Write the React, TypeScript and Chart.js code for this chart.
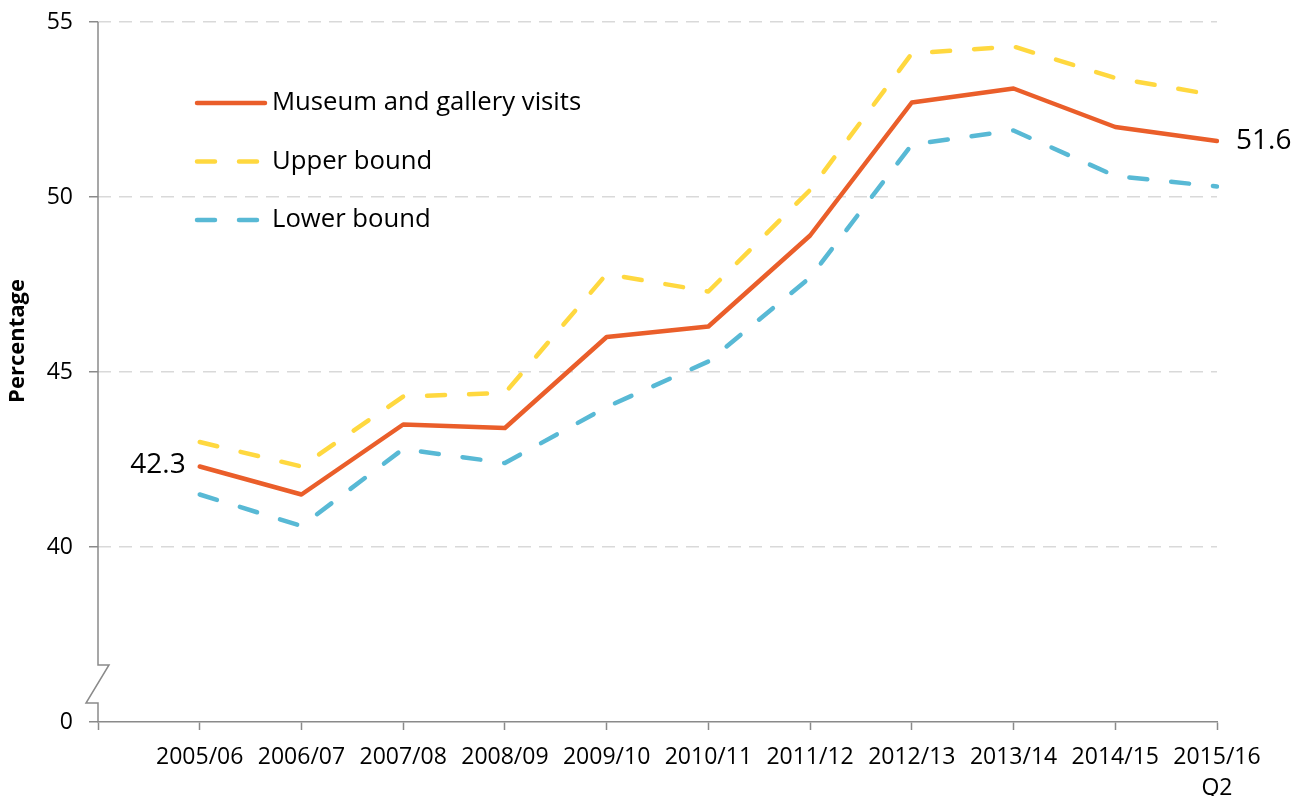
import React, { useEffect, useRef } from 'react';
import { Chart, registerables } from 'chart.js';

Chart.register(...registerables);

// ---- Data ----
const categories: (string | string[])[] = [
  '2005/06', '2006/07', '2007/08', '2008/09', '2009/10', '2010/11',
  '2011/12', '2012/13', '2013/14', '2014/15', ['2015/16', 'Q2'],
];
const visits = [42.3, 41.5, 43.5, 43.4, 46.0, 46.3, 48.9, 52.7, 53.1, 52.0, 51.6];
const upperBound = [43.0, 42.3, 44.3, 44.4, 47.8, 47.3, 50.2, 54.1, 54.3, 53.4, 52.9];
const lowerBound = [41.5, 40.6, 42.8, 42.4, 44.0, 45.3, 47.7, 51.5, 51.9, 50.6, 50.3];
const seriesNames = ['Museum and gallery visits', 'Upper bound', 'Lower bound'];
// broken axis: the lowest tick (35) is labelled "0"
const yTickValues = [35, 40, 45, 50, 55];
const yTickLabels = ['0', '40', '45', '50', '55'];
const yAxisTitle = 'Percentage';

// ---- Styles ----
const FONT = "'Open Sans', 'Noto Sans', sans-serif";
const ORANGE = '#EA5E2A';
const YELLOW = '#FFD83F';
const BLUE = '#58B9D5';
const AXIS = '#8a8a8a';
const GRID = '#d9d9d9';

const decorPlugin = {
  id: 'decor',
  afterDraw(chart: any) {
    const { ctx, chartArea } = chart;
    const x0 = chartArea.left;
    const b = chartArea.bottom;
    ctx.save();
    // y axis line with break symbol
    ctx.strokeStyle = AXIS;
    ctx.lineWidth = 1.5;
    ctx.lineJoin = 'miter';
    ctx.beginPath();
    ctx.moveTo(x0, chartArea.top);
    ctx.lineTo(x0, b - 57);
    ctx.lineTo(x0 + 11, b - 57);
    ctx.lineTo(x0 - 12, b - 19);
    ctx.lineTo(x0, b - 19);
    ctx.lineTo(x0, b);
    ctx.stroke();

    // y axis title
    ctx.save();
    ctx.translate(18, 341);
    ctx.rotate(-Math.PI / 2);
    ctx.fillStyle = '#000';
    ctx.font = `bold 22px ${FONT}`;
    ctx.textAlign = 'center';
    ctx.textBaseline = 'middle';
    ctx.fillText(yAxisTitle, 0, 0);
    ctx.restore();

    // legend
    chart.data.datasets.forEach((ds: any, i: number) => {
      const ly = 103 + i * 58.5;
      ctx.save();
      ctx.strokeStyle = ds.borderColor;
      ctx.lineWidth = ds.borderWidth;
      ctx.lineCap = 'round';
      ctx.setLineDash(ds.borderDash || []);
      ctx.beginPath();
      ctx.moveTo(197, ly);
      ctx.lineTo(265, ly);
      ctx.stroke();
      ctx.restore();
      ctx.fillStyle = '#000';
      ctx.font = `25.7px ${FONT}`;
      ctx.textAlign = 'left';
      ctx.textBaseline = 'middle';
      ctx.fillText(ds.label, 272, ly);
    });

    // data labels for first and last point of main series
    const meta = chart.getDatasetMeta(0);
    const pts = meta.data;
    const first = pts[1];
    const last = pts[pts.length - 1];
    ctx.fillStyle = '#000';
    ctx.font = `28px ${FONT}`;
    ctx.textBaseline = 'middle';
    ctx.textAlign = 'right';
    ctx.fillText(visits[0].toFixed(1), first.x - 14, first.y - 1);
    ctx.textAlign = 'left';
    ctx.fillText(visits[visits.length - 1].toFixed(1), last.x + 19, last.y);
    ctx.restore();
  },
};

export default function App() {
  const ref = useRef<HTMLCanvasElement>(null);
  useEffect(() => {
    if (!ref.current) return;
    const labels = ['', ...categories];
    const mk = (name: string, vals: number[], color: string, dash: number[]) => ({
      label: name,
      data: [null, ...vals],
      borderColor: color,
      backgroundColor: color,
      borderWidth: 4.5,
      borderDash: dash,
      borderCapStyle: 'round',
      borderJoinStyle: 'round',
      pointRadius: 0,
      tension: 0,
      fill: false,
    });
    const chart = new Chart(ref.current, {
      type: 'line',
      data: {
        labels,
        datasets: [
          mk(seriesNames[0], visits, ORANGE, []),
          mk(seriesNames[1], upperBound, YELLOW, [18, 24]),
          mk(seriesNames[2], lowerBound, BLUE, [18, 24]),
        ] as any,
      },
      options: {
        responsive: false,
        animation: false,
        devicePixelRatio: 1,
        layout: { padding: { top: 22, right: 85, left: 0, bottom: 0 } },
        plugins: { legend: { display: false }, tooltip: { enabled: false } },
        scales: {
          x: {
            type: 'category',
            offset: false,
            grid: {
              drawOnChartArea: false,
              drawTicks: true,
              tickLength: 8,
              tickColor: AXIS,
              tickWidth: 1.5,
            },
            border: { display: true, color: AXIS, width: 1.5 },
            ticks: {
              autoSkip: false,
              maxRotation: 0,
              minRotation: 0,
              padding: 12,
              color: '#000',
              font: { family: FONT, size: 23, lineHeight: 1.35 },
            },
            afterFit: (s: any) => { s.height = 74; s.paddingLeft = 0; s.paddingRight = 0; },
          },
          y: {
            type: 'linear',
            min: 35,
            max: 55,
            afterBuildTicks: (s: any) => { s.ticks = yTickValues.map((v) => ({ value: v })); },
            grid: {
              color: (c: any) => (c.tick && c.tick.value === 35 ? 'rgba(0,0,0,0)' : GRID),
              lineWidth: 1.5,
              drawTicks: true,
              tickLength: 9,
              tickColor: AXIS,
              tickWidth: 1.5,
            },
            border: { display: false, dash: [13, 8] },
            ticks: {
              padding: 16,
              color: '#000',
              font: { family: FONT, size: 23 },
              callback: (v: any) => {
                const i = yTickValues.indexOf(Number(v));
                return i >= 0 ? yTickLabels[i] : '';
              },
            },
            afterFit: (s: any) => { s.width = 98; s.paddingTop = 0; s.paddingBottom = 0; },
          },
        },
      } as any,
      plugins: [decorPlugin],
    });
    return () => chart.destroy();
  }, []);
  return (
    <div style={{ position: 'fixed', left: 0, top: 0, width: 1302, height: 796, background: '#fff' }}>
      <canvas ref={ref} width={1302} height={796} style={{ display: 'block' }} />
    </div>
  );
}
